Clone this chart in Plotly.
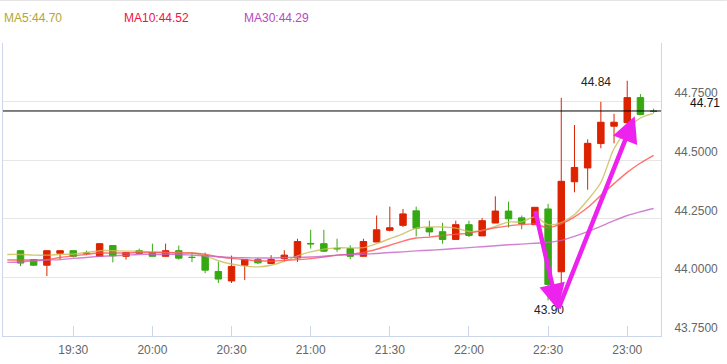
import plotly.graph_objects as go

DAY = "2024-01-01 "

# ---------------- data ----------------
times = ["19:10", "19:15", "19:20", "19:25", "19:30", "19:35", "19:40", "19:45", "19:50", "19:55",
         "20:00", "20:05", "20:10", "20:15", "20:20", "20:25", "20:30", "20:35", "20:40", "20:45",
         "20:50", "20:55", "21:00", "21:05", "21:10", "21:15", "21:20", "21:25", "21:30", "21:35",
         "21:40", "21:45", "21:50", "21:55", "22:00", "22:05", "22:10", "22:15", "22:20", "22:25",
         "22:30", "22:35", "22:40", "22:45", "22:50", "22:55", "23:00", "23:05", "23:10"]
opens = [44.114, 44.076, 44.052, 44.103, 44.114, 44.104, 44.090, 44.136, 44.090, 44.114,
         44.106, 44.090, 44.114, 44.086, 44.093, 44.025, 43.985, 44.052, 44.076, 44.059,
         44.081, 44.083, 44.145, 44.144, 44.124, 44.123, 44.090, 44.151, 44.201, 44.222,
         44.284, 44.212, 44.195, 44.162, 44.225, 44.177, 44.232, 44.283, 44.254, 44.225,
         44.292, 44.024, 44.408, 44.467, 44.571, 44.645, 44.660, 44.767, 44.710]
highs = [44.114, 44.078, 44.114, 44.114, 44.114, 44.114, 44.144, 44.136, 44.106, 44.123,
         44.144, 44.144, 44.136, 44.106, 44.106, 44.067, 44.093, 44.076, 44.083, 44.095,
         44.116, 44.165, 44.203, 44.203, 44.165, 44.137, 44.165, 44.264, 44.302, 44.292,
         44.302, 44.242, 44.233, 44.242, 44.242, 44.253, 44.346, 44.323, 44.264, 44.299,
         44.314, 44.766, 44.650, 44.589, 44.749, 44.698, 44.839, 44.782, 44.720]
lows = [44.048, 44.048, 44.006, 44.078, 44.085, 44.095, 44.090, 44.064, 44.076, 44.102,
        44.090, 44.090, 44.076, 44.065, 44.018, 43.976, 43.976, 43.989, 44.057, 44.057,
        44.066, 44.066, 44.123, 44.109, 44.109, 44.078, 44.090, 44.151, 44.196, 44.215,
        44.175, 44.175, 44.144, 44.162, 44.172, 44.177, 44.232, 44.213, 44.205, 44.225,
        43.902, 43.961, 44.363, 44.374, 44.551, 44.572, 44.631, 44.692, 44.702]
closes = [44.061, 44.052, 44.114, 44.114, 44.090, 44.103, 44.144, 44.092, 44.106, 44.102,
          44.090, 44.114, 44.082, 44.085, 44.031, 43.993, 44.047, 44.076, 44.062, 44.076,
          44.095, 44.153, 44.143, 44.112, 44.122, 44.090, 44.153, 44.203, 44.212, 44.271,
          44.210, 44.194, 44.162, 44.225, 44.179, 44.242, 44.283, 44.250, 44.229, 44.299,
          43.970, 44.410, 44.469, 44.572, 44.662, 44.662, 44.767, 44.695, 44.708]

ma_times = ["19:05", "19:10", "19:15", "19:20", "19:25", "19:30", "19:35", "19:40", "19:45", "19:50",
            "19:55", "20:00", "20:05", "20:10", "20:15", "20:20", "20:25", "20:30", "20:35", "20:40",
            "20:45", "20:50", "20:55", "21:00", "21:05", "21:10", "21:15", "21:20", "21:25", "21:30",
            "21:35", "21:40", "21:45", "21:50", "21:55", "22:00", "22:05", "22:10", "22:15", "22:20",
            "22:25", "22:30", "22:35", "22:40", "22:45", "22:50", "22:55", "23:00", "23:05", "23:10"]
ma5 = [44.098, 44.098, 44.095, 44.095, 44.098, 44.100, 44.106, 44.114, 44.114, 44.112,
       44.112, 44.109, 44.106, 44.106, 44.104, 44.092, 44.071, 44.057, 44.048, 44.045,
       44.052, 44.069, 44.092, 44.109, 44.120, 44.126, 44.126, 44.127, 44.144, 44.165,
       44.186, 44.210, 44.215, 44.215, 44.210, 44.196, 44.200, 44.218, 44.236, 44.237,
       44.258, 44.225, 44.234, 44.268, 44.330, 44.405, 44.550, 44.630, 44.680, 44.700]
ma10 = [44.074, 44.074, 44.074, 44.076, 44.085, 44.092, 44.098, 44.104, 44.104, 44.104,
        44.106, 44.106, 44.106, 44.104, 44.104, 44.099, 44.088, 44.081, 44.076, 44.071,
        44.069, 44.073, 44.076, 44.080, 44.087, 44.095, 44.099, 44.106, 44.120, 44.137,
        44.155, 44.168, 44.172, 44.179, 44.184, 44.189, 44.200, 44.212, 44.220, 44.225,
        44.228, 44.212, 44.228, 44.258, 44.298, 44.350, 44.400, 44.448, 44.488, 44.521]
ma30 = [44.064, 44.066, 44.071, 44.074, 44.076, 44.081, 44.085, 44.090, 44.092, 44.095,
        44.098, 44.098, 44.098, 44.098, 44.095, 44.092, 44.088, 44.085, 44.084, 44.083,
        44.083, 44.085, 44.086, 44.087, 44.090, 44.095, 44.097, 44.099, 44.102, 44.106,
        44.109, 44.113, 44.116, 44.119, 44.123, 44.127, 44.131, 44.135, 44.139, 44.142,
        44.146, 44.150, 44.158, 44.175, 44.195, 44.218, 44.242, 44.264, 44.280, 44.294]

ma_names = ["MA5", "MA10", "MA30"]
ma_last = [44.70, 44.52, 44.29]

x_tick_times = ["19:30", "20:00", "20:30", "21:00", "21:30", "22:00", "22:30", "23:00"]
y_tick_vals = [43.75, 44.0, 44.25, 44.5, 44.75, 45.0]
y_tick_text = ["43.7500", "44.0000", "44.2500", "44.5000", "44.7500", ""]

last_price = 44.71
max_point = ("23:00", 44.84)
min_point = ("22:30", 43.90)
arrow_down = (("22:25", 44.29), ("22:33:45", 43.862))
arrow_up = (("22:33:45", 43.862), ("23:02:50", 44.688))
x_range = ("19:03:22", "23:12:48")
y_range = (43.75, 45.0)

# ---------------- styles ----------------
RED = "#dd2200"
GREEN = "#36a912"
MA_LINE = ["#c8bd55", "#ff5050", "#c764c9"]
MA_TEXT = ["#b2a634", "#f0113f", "#b74ac0"]
AXIS_BLUE = "#ccd6eb"
GRID = "#e6e6e6"
TXT = "#666666"
FONT = "Liberation Sans, Arial, sans-serif"
ARROW = "#ee22ee"

fig = go.Figure()

for name, vals, col in zip(ma_names, [ma5, ma10, ma30], MA_LINE):
    fig.add_trace(go.Scatter(
        x=[DAY + t for t in ma_times], y=vals, mode="lines", name=name,
        line=dict(color=col, width=1.4, shape="spline", smoothing=0.8),
        opacity=0.8, hoverinfo="skip", showlegend=False))

fig.add_trace(go.Candlestick(
    x=[DAY + t for t in times], open=opens, high=highs, low=lows, close=closes,
    increasing=dict(line=dict(color=RED, width=1), fillcolor=RED),
    decreasing=dict(line=dict(color=GREEN, width=1), fillcolor=GREEN),
    whiskerwidth=0, showlegend=False, hoverinfo="skip"))

annotations = []
legend_offsets = [0, 120, 240]
for name, val, col, off in zip(ma_names, ma_last, MA_TEXT, legend_offsets):
    annotations.append(dict(
        xref="paper", yref="paper", x=0, y=1, xanchor="left", yanchor="middle",
        xshift=off - 1, yshift=25, showarrow=False,
        text=f"{name}:{val:.2f}", font=dict(family=FONT, size=12, color=col)))

annotations.append(dict(
    xref="paper", yref="y", x=1, y=last_price, xanchor="right", yanchor="middle",
    xshift=61, yshift=8, showarrow=False, text=f"{last_price:.2f}",
    font=dict(family=FONT, size=12, color="#111111")))

annotations.append(dict(
    xref="x", yref="y", x=DAY + max_point[0], y=max_point[1], xanchor="right", yanchor="middle",
    xshift=-14, yshift=-1, showarrow=False, text=f"{max_point[1]:.2f}",
    font=dict(family=FONT, size=12, color="#222222")))
annotations.append(dict(
    xref="x", yref="y", x=DAY + min_point[0], y=min_point[1], xanchor="center", yanchor="top",
    xshift=1, yshift=0, showarrow=False, text=f"{min_point[1]:.2f}",
    font=dict(family=FONT, size=12, color="#222222")))

for (tail, head) in [arrow_down, arrow_up]:
    annotations.append(dict(
        xref="x", yref="y", axref="x", ayref="y",
        x=DAY + head[0], y=head[1], ax=DAY + tail[0], ay=tail[1],
        text="", showarrow=True, arrowhead=2, arrowsize=1.15, arrowwidth=4.5,
        arrowcolor=ARROW, standoff=0, startstandoff=0))

fig.update_layout(
    width=727, height=364,
    margin=dict(l=3, r=66, t=43, b=28, autoexpand=False),
    paper_bgcolor="white", plot_bgcolor="white",
    font=dict(family=FONT, size=12, color=TXT),
    boxgap=0.3,
    annotations=annotations,
    xaxis=dict(
        type="date", range=[DAY + x_range[0], DAY + x_range[1]],
        tickvals=[DAY + t for t in x_tick_times], ticktext=x_tick_times,
        ticks="inside", ticklen=10, tickcolor=AXIS_BLUE, tickwidth=1,
        ticklabelstandoff=3,
        showline=True, linecolor=AXIS_BLUE, linewidth=1,
        showgrid=False, zeroline=False, rangeslider=dict(visible=False),
        automargin=False,
        tickfont=dict(family=FONT, size=12, color=TXT), fixedrange=True),
    yaxis=dict(
        side="right", range=list(y_range),
        tickvals=y_tick_vals, ticktext=y_tick_text,
        ticklabelposition="outside top", ticks="", ticklabelstandoff=10,
        showgrid=True, gridcolor=GRID, gridwidth=1,
        showline=True, linecolor=AXIS_BLUE, linewidth=1, mirror=True,
        zeroline=False, automargin=False,
        tickfont=dict(family=FONT, size=12, color=TXT), fixedrange=True),
)

fig.add_hline(y=last_price, line=dict(color="black", width=1))
fig.add_shape(type="line", xref="paper", yref="paper", x0=-0.01, x1=1.1,
              y0=1.1465, y1=1.1465, line=dict(color="#dddddd", width=1.5))

fig.write_html(
    "out.html", config=dict(displayModeBar=False),
    post_script="document.body.style.margin='0';document.body.style.padding='0';"
                "document.documentElement.style.overflow='hidden';")
